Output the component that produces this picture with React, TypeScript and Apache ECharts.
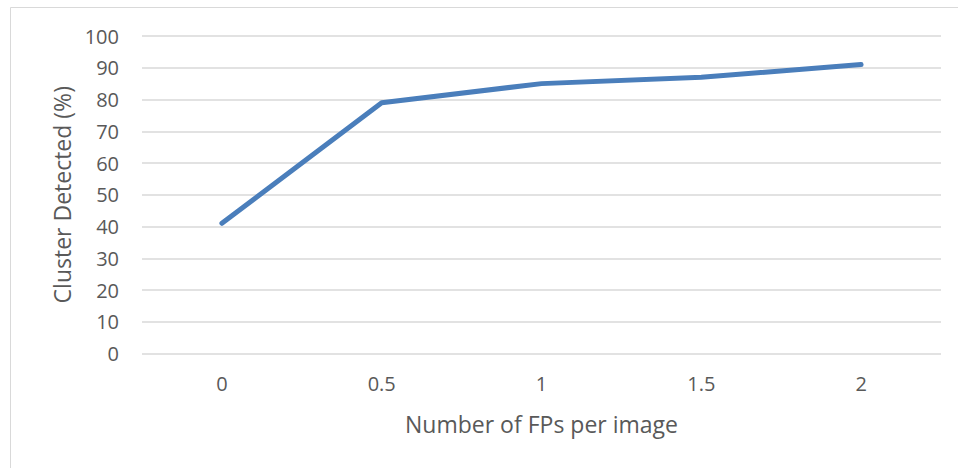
import React, { useEffect, useRef } from "react";
import * as echarts from "echarts";

const categories = ["0", "0.5", "1", "1.5", "2"];
const detected = [41, 79, 85, 87, 91];
const yTicks = { min: 0, max: 100, interval: 10 };

export default function App() {
  const ref = useRef<HTMLDivElement>(null);
  useEffect(() => {
    const chart = echarts.init(ref.current!, null, { renderer: "svg" });
    const font = "'Open Sans', 'Noto Sans', sans-serif";
    chart.setOption({
      animation: false,
      backgroundColor: "#ffffff",
      grid: { left: 142, right: 17, top: 36, bottom: 114.5, containLabel: false },
      graphic: [
        { type: "line", shape: { x1: 10.5, y1: 7.5, x2: 958, y2: 7.5 }, style: { stroke: "#d9d9d9", lineWidth: 1 } },
        { type: "line", shape: { x1: 10.5, y1: 7.5, x2: 10.5, y2: 468 }, style: { stroke: "#d9d9d9", lineWidth: 1 } },
      ],
      xAxis: {
        type: "category",
        data: categories,
        boundaryGap: true,
        axisLine: { show: false },
        axisTick: { show: false },
        axisLabel: { color: "#595959", fontSize: 20, fontFamily: font, margin: 20 },
        name: "Number of FPs per image",
        nameLocation: "middle",
        nameGap: 59,
        nameTextStyle: { color: "#595959", fontSize: 23, fontFamily: font },
      },
      yAxis: {
        type: "value",
        min: yTicks.min,
        max: yTicks.max,
        interval: yTicks.interval,
        axisLine: { show: false },
        axisTick: { show: false },
        splitLine: { lineStyle: { color: "#d9d9d9", width: 1.5 } },
        axisLabel: { color: "#595959", fontSize: 20, fontFamily: font, margin: 23 },
        name: "Cluster Detected (%)",
        nameLocation: "middle",
        nameGap: 69,
        nameTextStyle: { color: "#595959", fontSize: 23, fontFamily: font },
      },
      series: [
        {
          type: "line",
          data: detected,
          symbol: "none",
          lineStyle: { color: "#4a7ebb", width: 5, cap: "round", join: "round" },
        },
      ],
    });
    return () => chart.dispose();
  }, []);
  return <div ref={ref} style={{ position: "absolute", left: 0, top: 0, width: 958, height: 468 }} />;
}
